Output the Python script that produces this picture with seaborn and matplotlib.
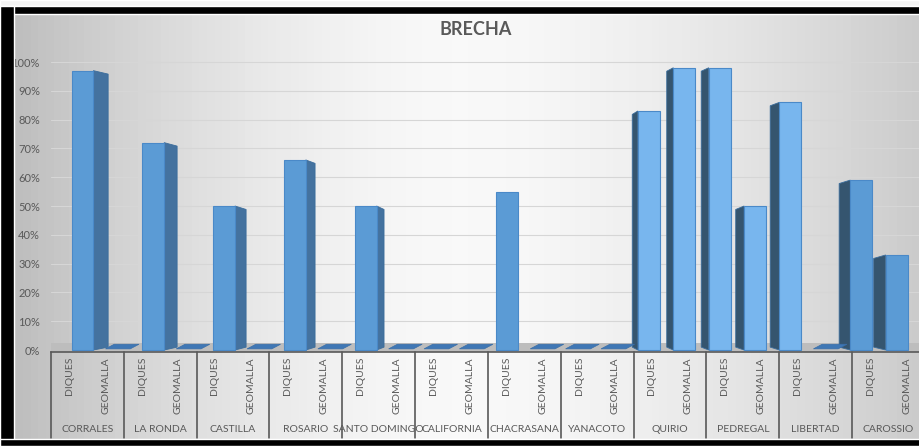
import numpy as np
import pandas as pd
import seaborn as sns
from matplotlib import pyplot as plt
from matplotlib.patches import Polygon, Rectangle
from matplotlib.ticker import PercentFormatter
from matplotlib.transforms import blended_transform_factory

# datos
grupos = ["CORRALES", "LA RONDA", "CASTILLA", "ROSARIO", "SANTO DOMINGO", "CALIFORNIA",
          "CHACRASANA", "YANACOTO", "QUIRIO", "PEDREGAL", "LIBERTAD", "CAROSSIO"]
tipos = ["DIQUES", "GEOMALLA"]
diques = [0.97, 0.72, 0.50, 0.66, 0.50, 0.0, 0.55, 0.0, 0.83, 0.98, 0.86, 0.59]
geomalla = [0.0, 0.0, 0.0, 0.0, 0.0, 0.0, 0.0, 0.0, 0.98, 0.50, 0.0, 0.33]

df = pd.DataFrame({
    "grupo": grupos * 2,
    "tipo": ["DIQUES"] * len(grupos) + ["GEOMALLA"] * len(grupos),
    "valor": diques + geomalla,
})

sns.set_style("white")
plt.rcParams["font.family"] = ["Lato", "DejaVu Sans"]
gris = "#595959"

fig = plt.figure(figsize=(9.2, 4.46), dpi=100)

# fondo degradado hecho con franjas verticales
bg = fig.add_axes([0, 0, 1, 1], zorder=-1)
n = 120
for k in range(n):
    xm = (k + 0.5) / n
    c = 0.75 if xm < 0.5 else 0.55
    g = 0.975 - c * abs(xm - 0.5) ** 1.6
    bg.axvspan(k / n, (k + 1) / n, color=(g, g, g), lw=0)
bg.set_xlim(0, 1)
bg.set_ylim(0, 1)
bg.axis("off")

ax = fig.add_axes([51 / 920, (446 - 352) / 446, 874 / 920, 312 / 446])
ax.set_facecolor("none")

sns.barplot(data=df, x="grupo", y="valor", hue="tipo", order=grupos, hue_order=tipos,
            palette=["#5b9bd5", "#5b9bd5"], width=1.0, gap=0.4, saturation=1,
            edgecolor="#4a89c8", linewidth=0.8, legend=False, errorbar=None, ax=ax)

barras = [p for p in ax.patches if isinstance(p, Rectangle)]
centro = 6.25
for p in barras:
    x0 = p.get_x()
    w = p.get_width()
    h = p.get_height()
    xc = x0 + w / 2
    # pequeño desplazamiento de perspectiva
    x0 = x0 - 0.028 * (xc - centro)
    p.set_x(x0)
    x1 = x0 + w
    d = 0.04 + 0.025 * abs(xc - centro)
    if 7.5 < xc < 10.0:
        p.set_facecolor("#78b6ee")
    if h <= 0:
        p.set_visible(False)
        slab = Polygon([(x0 - 0.02, 0.004), (x1 + 0.02, 0.004), (x1 + 0.14, 0.02), (x0 + 0.1, 0.02)],
                       closed=True, facecolor="#3f77b5", edgecolor="#3a6fa8", lw=0.5, zorder=3)
        ax.add_patch(slab)
        continue
    dy = 0.012
    if xc < centro - 0.5:
        lado = [(x1, 0.0), (x1, h), (x1 + d, h - dy), (x1 + d, 0.01)]
        col = "#44729f"
    elif xc > centro + 0.5:
        lado = [(x0, 0.0), (x0, h), (x0 - d, h - dy), (x0 - d, 0.01)]
        col = "#35556f"
    else:
        lado = None
    if lado:
        ax.add_patch(Polygon(lado, closed=True, facecolor=col, edgecolor="#3b6d9c", lw=0.6, zorder=2))
    p.set_zorder(3)

# piso gris
ax.axhspan(-0.007, 0.025, color="#bdbdbd", lw=0, zorder=1)

ax.set_xlim(-0.5, 11.5)
ax.set_ylim(-0.0069, 1.0764)
ax.set_yticks(np.arange(0, 1.01, 0.1))
ax.yaxis.set_major_formatter(PercentFormatter(1.0, decimals=0))
ax.tick_params(axis="y", length=0, pad=8, labelsize=8, labelcolor=gris)
ax.set_xticks([])
ax.set_xlabel("")
ax.set_ylabel("")
ax.yaxis.grid(True, color="#d6d6d6", lw=0.8)
ax.set_axisbelow(True)
for s in ["top", "right", "left"]:
    ax.spines[s].set_visible(False)
ax.spines["bottom"].set_color(gris)
ax.spines["bottom"].set_linewidth(1.2)

# etiquetas de categorias de dos niveles
tr = blended_transform_factory(ax.transData, fig.transFigure)
for i, g in enumerate(grupos):
    for j, t in enumerate(tipos):
        ax.text(i - 0.25 + 0.5 * j, (446 - 357) / 446, t, rotation=90, ha="center", va="top",
                fontsize=7.5, color=gris, transform=tr)
    ax.text(i, (446 - 429) / 446, g, ha="center", va="center", fontsize=7.5, color=gris, transform=tr)
for i in range(len(grupos) + 1):
    ax.plot([i - 0.5, i - 0.5], [(446 - 352) / 446, (446 - 438) / 446], color=gris, lw=1.2,
            transform=tr, clip_on=False)

fig.text(0.517, 0.933, "BRECHA", ha="center", va="center", fontsize=13, fontweight="bold", color=gris)

# marco negro de la captura
fig.add_artist(Rectangle((0, 1 - 6 / 446), 1, 6 / 446, facecolor="#f4f4f4", transform=fig.transFigure, zorder=20))
fig.add_artist(Rectangle((0, 1 - 14 / 446), 1, 8 / 446, facecolor="black", transform=fig.transFigure, zorder=21))
fig.add_artist(Rectangle((0, 0), 14 / 920, 1 - 6 / 446, facecolor="black", transform=fig.transFigure, zorder=21))
fig.add_artist(Rectangle((0, 0), 1, 7 / 446, facecolor="black", transform=fig.transFigure, zorder=21))

fig.savefig("out.png", dpi=100)
